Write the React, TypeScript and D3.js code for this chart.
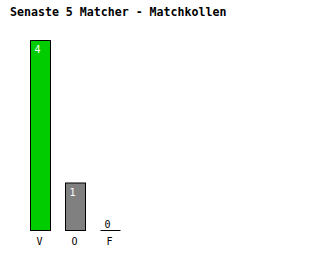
import React from "react";
import * as d3 from "d3";

const categories = ["V", "O", "F"];
const values = [4, 1, 0];
const colors = ["#00cc00", "#808080", "#ffffff"];
const title = "Senaste 5 Matcher - Matchkollen";

const W = 320;
const H = 280;
const baseY = 230.5;
const topY = 40.5;
const font = "'DejaVu Sans Mono', monospace";

export default function App() {
  const x = d3.scaleBand<string>().domain(categories).range([30, 120]).paddingInner(15 / 35).paddingOuter(0);
  const y = d3.scaleLinear().domain([0, 4]).range([baseY, topY]);
  const bw = x.bandwidth();

  return (
    <svg width={W} height={H} style={{ position: "absolute", left: 0, top: 0, background: "#fff" }}>
      <text x={10} y={16} fontFamily={font} fontWeight="bold" fontSize={11.6} fill="#000">
        {title}
      </text>
      {categories.map((c, i) => {
        const x0 = Math.round(x(c)!) + 0.5;
        const v = values[i];
        const yt = y(v);
        return (
          <g key={c}>
            {v > 0 ? (
              <rect x={x0} y={yt} width={bw} height={baseY - yt} fill={colors[i]} stroke="#000" strokeWidth={1} />
            ) : (
              <line x1={x0} x2={x0 + bw} y1={baseY} y2={baseY} stroke="#000" strokeWidth={1} />
            )}
            <text
              x={x0 + 4}
              y={v > 0 ? yt + 12.5 : baseY - 2.5}
              fontFamily={font}
              fontSize={10}
              fill={v > 0 ? "#fff" : "#000"}
            >
              {v}
            </text>
            <text x={x0 + 6} y={baseY + 14.5} fontFamily={font} fontSize={10} fill="#000">
              {c}
            </text>
          </g>
        );
      })}
    </svg>
  );
}
